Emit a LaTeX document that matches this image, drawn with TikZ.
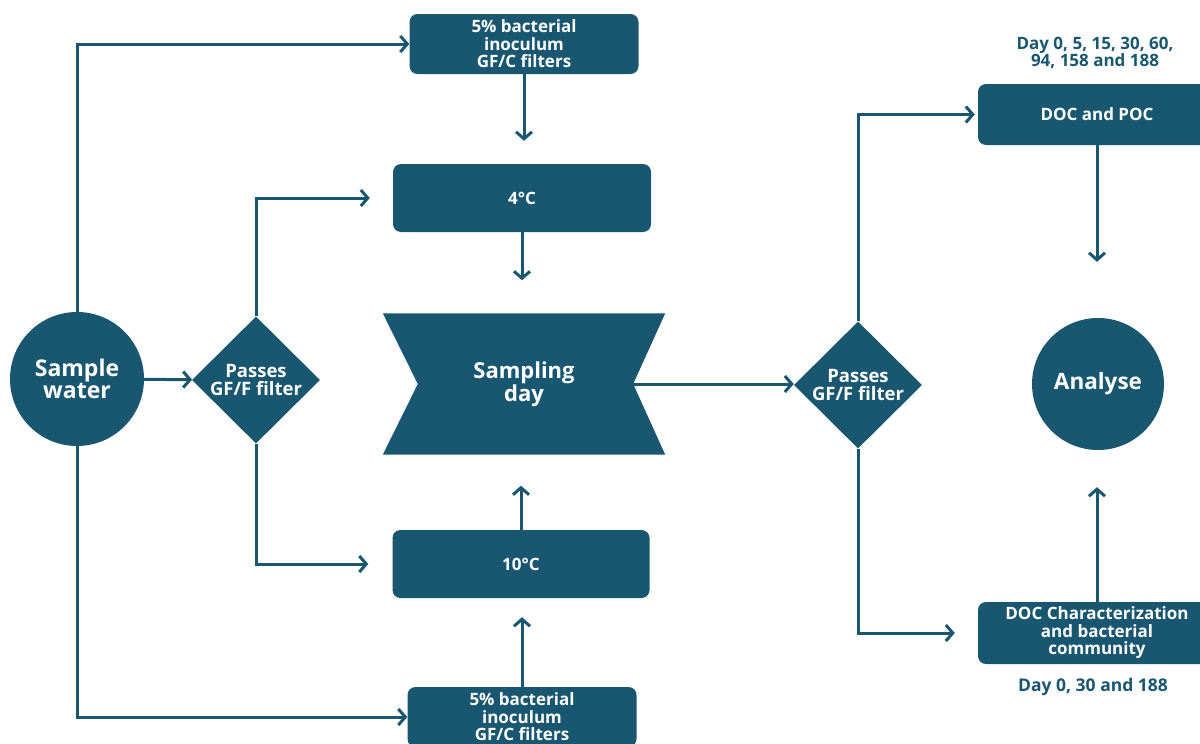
\documentclass[tikz,border=0pt]{standalone}
\usepackage{fontspec}
\setmainfont{Open Sans}
\usetikzlibrary{shapes.geometric,arrows.meta,backgrounds,calc}
\definecolor{flowblue}{RGB}{25,87,113}
\tikzstyle{box}=[rectangle, rounded corners=8pt, fill=flowblue, text=white, align=center, inner sep=0pt, font=\bfseries\fontsize{17}{17.5}\selectfont]
\tikzstyle{state}=[circle, fill=flowblue, text=white, align=center, inner sep=0pt, font=\bfseries\fontsize{23}{22}\selectfont]
\tikzstyle{decision}=[diamond, aspect=1, fill=flowblue, text=white, align=center, inner sep=0pt, minimum width=128pt, minimum height=127pt, font=\bfseries\fontsize{18.5}{18}\selectfont]
\tikzstyle{days}=[text=flowblue, align=center, font=\bfseries\fontsize{17}{17}\selectfont]
\tikzstyle{arr}=[draw=flowblue, line width=3pt, -{Straight Barb[length=7pt,width=16pt]}]

\begin{document}
\begin{tikzpicture}[x=1pt, y=-1pt]
            \useasboundingbox (0,0) rectangle (1200,744);
            \node[state, minimum size=134pt] at (77,379) (water) {Sample\\water};
            \node[decision] at (256,380) (pass1) {Passes\\GF/F filter};
            \node[box, minimum width=229pt, minimum height=60pt] at (524,44) (inocA) {5\% bacterial\\inoculum\\GF/C filters};
            \node[box, minimum width=258pt, minimum height=68pt] at (522,198) (cold) {4°C};
            \node[minimum width=282pt, minimum height=141pt, text=white, align=center, font=\bfseries\fontsize{22}{21}\selectfont] at (524,384) (samp) {Sampling\\day};
            \node[box, minimum width=257pt, minimum height=68pt] at (521,564) (warm) {10°C};
            \node[box, minimum width=229pt, minimum height=60pt] at (522,717) (inocB) {5\% bacterial\\inoculum\\GF/C filters};
            \node[decision] at (858,385) (pass2) {Passes\\GF/F filter};
            \node[box, minimum width=238pt, minimum height=61pt] at (1097,114.5) (docpoc) {DOC and POC};
            \node[state, minimum size=132pt, font=\bfseries\fontsize{22.5}{22}\selectfont] at (1098,384) (analyse) {Analyse};
            \node[box, minimum width=238pt, minimum height=62pt] at (1097,633) (docchar) {DOC Characterization\\and bacterial\\community};
            \node[days] at (1095,52.5) (daysA) {Day 0, 5, 15, 30, 60,\\94, 158 and 188};
            \node[days, font=\bfseries\fontsize{17.5}{17}\selectfont] at (1093,687) (daysB) {Day 0, 30 and 188};
            % sampling day bow shape
            \coordinate (sampL) at ($(samp.west)+(35,0)$);
            \coordinate (sampR) at ($(samp.east)+(-32,0)$);
            \begin{scope}[on background layer]
                \fill[flowblue] (samp.north west) -- (samp.north east) -- (sampR) -- (samp.south east) -- (samp.south west) -- (sampL) -- cycle;
            \end{scope}
            % left part
            \draw[arr] (water.north) |- (inocA.west);
            \draw[arr] (water.south) |- (inocB.west);
            \draw[arr] (water) -- (pass1);
            \draw[arr, shorten >=23pt] (pass1.north) |- (cold.west);
            \draw[arr, shorten >=24pt] (pass1.south) |- (warm.west);
            \draw[arr, shorten >=23pt] (inocA.south) -- (inocA.south |- cold.north);
            \draw[arr, shorten >=33pt] (cold.south) -- (cold.south |- samp.north);
            \draw[arr, shorten >=31pt] (warm.north) -- (warm.north |- samp.south);
            \draw[arr, shorten >=19pt] (inocB.north) -- (inocB.north |- warm.south);
            % right part
            \draw[arr] (sampR) -- (sampR -| pass2.west);
            \draw[arr, shorten >=3pt] (pass2.north) |- (docpoc.west);
            \draw[arr, shorten >=23pt] (pass2.south) |- (docchar.west);
            \draw[arr, shorten >=56pt] (docpoc.south) -- (docpoc.south |- analyse.north);
            \draw[arr, shorten >=37pt] (docchar.north) -- (docchar.north |- analyse.south);
        \end{tikzpicture}
\end{document}
